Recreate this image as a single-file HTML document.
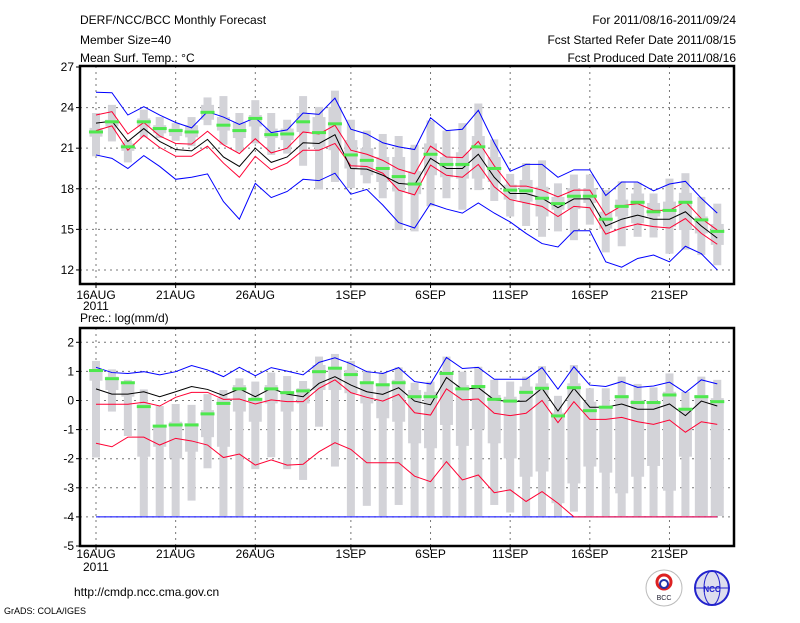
<!DOCTYPE html>
<html><head><meta charset="utf-8"><style>
body{margin:0;background:#fff;width:800px;height:618px;overflow:hidden;font-family:"Liberation Sans",sans-serif}
svg text{font-family:"Liberation Sans",sans-serif;font-size:12px;fill:#000}
</style></head><body>
<svg id="c" width="800" height="618" viewBox="0 0 800 618">
<text x="80" y="24">DERF/NCC/BCC Monthly Forecast</text>
<text x="80" y="44">Member Size=40</text>
<text x="80" y="62">Mean Surf. Temp.: °C</text>
<text x="736" y="24" text-anchor="end">For 2011/08/16-2011/09/24</text>
<text x="736" y="44" text-anchor="end">Fcst Started Refer Date 2011/08/15</text>
<text x="736" y="62" text-anchor="end">Fcst Produced Date 2011/08/16</text>
<text x="80" y="322">Prec.: log(mm/d)</text>
<text x="74" y="596">http://cmdp.ncc.cma.gov.cn</text>
<text x="4" y="614" style="font-size:9px">GrADS: COLA/IGES</text>
<g><circle cx="664" cy="588" r="18" fill="#fff" stroke="#bbb"/><circle cx="664" cy="582" r="7" fill="none" stroke="#d22" stroke-width="3"/><circle cx="664" cy="584" r="4" fill="none" stroke="#23a" stroke-width="2"/><text x="664" y="600" text-anchor="middle" style="font-size:7px;fill:#223">BCC</text></g>
<g><circle cx="712" cy="588" r="17" fill="#dde" stroke="#22c" stroke-width="2"/><ellipse cx="712" cy="588" rx="8" ry="17" fill="none" stroke="#22c"/><line x1="695" y1="588" x2="729" y2="588" stroke="#22c"/><text x="712" y="592" text-anchor="middle" style="font-size:8px;fill:#22c;font-weight:bold">NCC</text></g>
</svg>
<script>
// ---- data: top panel (temperature) ----
const tempBlueUp=[25.13,25.1,23.45,24.07,23.45,22.9,22.5,23.7,23.3,22.75,23.25,22.15,22.35,23.6,23.5,24.7,22.4,22.05,21.4,21.1,20.9,23.25,22.3,22.4,23.8,21.4,19.3,19.8,19.8,18.85,19.4,19.4,17.5,18.5,18.5,17.85,18.35,18.55,17.3,16.2];
const tempRedUp=[23.45,23.7,22.05,22.9,21.9,21.35,21.3,22.25,21.25,20.6,21.7,20.65,21.0,22.2,22.05,22.7,20.85,20.55,20.1,19.45,19.1,21.15,20.35,20.3,21.5,19.7,18.2,18.2,17.9,17.4,17.9,17.9,16.05,16.75,16.9,16.4,16.4,17.05,15.8,14.95];
const tempMean=[22.85,23.0,21.5,22.45,21.5,20.9,20.8,21.65,20.35,19.65,21.0,19.95,20.35,21.4,21.35,22.0,19.5,19.45,19.0,18.4,18.3,20.25,19.5,19.5,20.55,18.85,17.65,17.65,17.3,16.6,17.25,17.25,15.25,15.75,16.05,15.75,15.75,16.3,15.25,14.35];
const tempRedLo=[22.3,22.65,20.85,21.95,21.05,20.4,20.4,21.15,19.9,18.85,20.4,19.4,19.9,20.85,20.85,21.35,19.7,19.65,19.15,17.9,17.55,19.75,19.0,18.85,19.8,18.15,17.2,16.95,16.7,15.95,16.7,16.6,14.65,15.1,15.4,15.2,15.1,15.8,14.7,13.9];
const tempBlueLo=[20.5,20.25,19.5,20.45,19.65,18.7,18.85,19.1,17.05,15.75,18.4,17.35,17.8,18.7,18.6,19.15,17.6,17.95,16.8,15.5,15.1,16.9,16.5,16.2,16.95,16.2,15.55,14.7,13.95,13.7,14.9,14.9,12.6,12.2,12.85,13.1,12.6,13.75,13.2,12.0];
const tempObs=[22.2,22.95,21.1,22.95,22.45,22.3,22.2,23.65,22.7,22.3,23.2,22.0,22.05,22.95,22.15,22.8,20.5,20.1,19.5,18.9,18.35,20.55,19.8,19.8,21.1,19.5,17.9,17.85,17.3,16.9,17.45,17.45,15.75,16.7,17.0,16.3,16.4,17.0,15.7,14.85];
const tempMax=[23.6,24.2,21.6,23.85,23.3,22.85,23.3,24.75,24.85,23.6,24.55,23.6,23.1,24.85,24.05,25.25,23.1,22.3,22.05,21.9,21.25,23.05,22.3,22.85,24.3,21.65,19.1,19.9,20.1,18.4,19.05,19.05,17.9,18.55,18.45,17.65,18.75,19.15,17.4,16.9];
const tempMin=[20.4,21.5,19.95,21.8,21.75,21.55,21.15,22.7,21.25,20.75,21.35,20.5,20.6,19.7,17.95,18.5,18.05,18.4,17.3,14.95,14.85,16.7,17.3,16.45,17.9,17.1,15.95,15.25,14.45,14.85,14.2,15.35,13.3,13.75,14.45,14.4,13.2,13.5,13.1,12.35];
const tempQ75=[22.5,23.1,21.35,23.2,22.7,22.45,22.7,24.2,23.3,22.9,23.45,22.45,22.45,23.6,23.3,24.05,21.6,21.0,20.35,20.35,19.3,21.35,20.35,20.7,21.9,20.35,18.3,18.65,18.15,17.4,18.05,18.05,16.3,17.2,17.65,16.95,17.05,17.7,15.95,15.4];
const tempQ25=[21.85,22.6,20.8,22.6,22.1,21.9,21.8,23.1,22.3,21.75,22.6,21.75,21.6,22.2,21.1,20.85,19.5,19.0,18.5,17.8,17.6,19.0,18.85,18.75,18.75,18.5,17.2,17.05,15.95,16.45,16.5,16.95,15.05,15.95,15.45,15.95,15.2,14.95,14.7,13.85];
// ---- data: bottom panel (precip log) ----
const precBlueUp=[1.14,0.96,0.93,0.99,0.88,0.99,1.2,1.05,0.82,1.14,0.85,1.13,1.01,0.88,1.31,1.47,1.26,0.99,0.93,1.13,0.65,0.57,1.48,1.1,1.14,0.73,0.73,0.73,1.13,0.39,1.16,0.53,0.48,0.65,0.45,0.5,0.63,0.27,0.71,0.57];
const precMean=[0.4,0.22,0.22,0.3,0.13,0.3,0.48,0.38,0.17,0.4,0.13,0.42,0.22,0.13,0.59,0.82,0.53,0.3,0.21,0.44,-0.02,-0.15,0.79,0.38,0.44,0.02,-0.04,-0.02,0.42,-0.36,0.42,-0.23,-0.23,-0.12,-0.3,-0.3,-0.12,-0.52,-0.02,-0.19];
const precRedUp=[-0.13,-0.13,-0.13,-0.06,-0.19,0.11,0.28,0.28,0.04,0.05,-0.12,0.02,-0.04,-0.04,0.42,0.71,0.27,0.11,-0.02,0.21,-0.42,-0.5,0.4,0.02,0.05,-0.44,-0.52,-0.44,0.0,-0.76,-0.04,-0.65,-0.65,-0.58,-0.73,-0.82,-0.67,-1.09,-0.73,-0.82];
const precRedLo=[-1.47,-1.59,-1.26,-1.26,-1.53,-1.3,-1.39,-1.53,-1.96,-1.84,-2.22,-2.04,-2.22,-2.19,-1.76,-1.45,-1.68,-2.14,-2.14,-2.14,-2.6,-2.79,-2.1,-2.73,-2.56,-3.17,-3.07,-3.47,-3.13,-3.53,-4,-4,-4,-4,-4,-4,-4,-4,-4,-4];
const precBlueLo=[-4,-4,-4,-4,-4,-4,-4,-4,-4,-4,-4,-4,-4,-4,-4,-4,-4,-4,-4,-4,-4,-4,-4,-4,-4,-4,-4,-4,-4,-4,-4,-4,-4,-4,-4,-4,-4,-4,-4,-4];
const precObs=[1.03,0.75,0.61,-0.21,-0.88,-0.84,-0.84,-0.46,-0.1,0.4,0.04,0.4,0.27,0.33,0.99,1.11,0.89,0.61,0.54,0.61,0.13,0.13,0.93,0.4,0.48,0.04,-0.02,0.28,0.42,-0.53,0.44,-0.35,-0.23,0.13,-0.07,-0.07,0.19,-0.3,0.13,-0.04];
const precMax=[1.36,1.07,0.71,0.38,-0.19,-0.12,-0.15,0.22,0.36,0.76,0.65,0.96,0.84,0.67,1.51,1.6,1.36,1.03,0.96,1.14,0.61,0.65,1.51,0.99,1.16,0.71,0.65,0.82,1.18,0.16,1.22,0.42,0.42,0.82,0.57,0.45,0.93,0.3,0.82,0.71];
const precMin=[-1.96,-0.38,-1.22,-3.97,-3.97,-3.97,-3.44,-2.33,-3.97,-3.97,-2.36,-1.95,-2.36,-2.73,-0.9,-2.27,-3.97,-3.62,-3.97,-3.59,-3.97,-3.97,-3.97,-3.97,-3.97,-3.59,-3.85,-3.97,-3.97,-3.97,-3.82,-3.97,-3.97,-3.97,-3.97,-3.97,-3.97,-3.97,-3.97,-3.97];
const precQ75=[1.07,0.82,0.59,-0.12,-0.9,-0.73,-0.78,-0.33,0.08,0.53,0.08,0.53,0.3,0.42,1.22,1.11,1.05,0.65,0.59,0.71,0.36,0.3,0.93,0.53,0.53,0.19,0.13,0.48,0.59,-0.42,0.59,-0.04,-0.23,0.19,0.02,-0.04,0.3,-0.27,0.19,0.08];
const precQ25=[0.68,0.36,0.13,-1.93,-1.59,-1.99,-1.76,-1.26,-1.59,-0.38,-0.73,-0.1,-0.38,-0.1,0.36,0.36,0.25,-0.1,-0.61,-0.73,-1.47,-1.64,-0.84,-1.56,-0.99,-1.47,-1.99,-2.62,-2.44,-3.53,-2.85,-2.27,-2.48,-3.19,-2.62,-2.25,-3.1,-1.93,-3.97,-3.97];
const xTickIdx=[0,5,10,16,21,26,31,36];
const xTickLabels=["16AUG","21AUG","26AUG","1SEP","6SEP","11SEP","16SEP","21SEP"];
const topYTicks=[12,15,18,21,24,27];
const botYTicks=[-5,-4,-3,-2,-1,0,1,2];

const svg=document.getElementById('c');
const NS='http://www.w3.org/2000/svg';
function mk(tag,attrs,parent){const e=document.createElementNS(NS,tag);for(const k in attrs)e.setAttribute(k,attrs[k]);(parent||svg).appendChild(e);return e;}
const xs=i=>96+i*15.93;
function panel(name,top,bottom,ymap,yticks,d,lblY,yrY){
  const g=mk('g',{});
  
  
  yticks.forEach(v=>{const y=ymap(v);
    if(y>top+2&&y<bottom-1){const l=mk('line',{x1:80,x2:734,y1:y,y2:y,stroke:'#777','stroke-dasharray':'2,4'},g);}
    const t=mk('line',{x1:76,x2:80,y1:y,y2:y,stroke:'#000'},g);
    const tx=mk('text',{x:74,y:y+4,'text-anchor':'end'},g);tx.textContent=v;});
  xTickIdx.forEach((i,k)=>{const x=xs(i);
    const l=mk('line',{x1:x,x2:x,y1:top,y2:bottom,stroke:'#777','stroke-dasharray':'2,4'},g);
    const t=mk('line',{x1:x,x2:x,y1:bottom,y2:bottom+4,stroke:'#000'},g);
    const tx=mk('text',{x:x,y:lblY,'text-anchor':'middle'},g);tx.textContent=xTickLabels[k];});
  const yr=mk('text',{x:83,y:yrY},g);yr.textContent='2011';
  for(let i=0;i<40;i++){const x=xs(i);
    const w=mk('rect',{x:x-4,width:8,y:ymap(d.max[i]),height:Math.max(1,ymap(d.min[i])-ymap(d.max[i])),fill:'#d3d3d8'},g);
    const b=mk('rect',{x:x-6.5,width:13,y:ymap(d.q75[i]),height:Math.max(1,ymap(d.q25[i])-ymap(d.q75[i])),fill:'#d3d3d8'},g);}
  const line=(arr,col,nm)=>{const p=mk('polyline',{points:arr.map((v,i)=>xs(i)+','+ymap(v)).join(' '),fill:'none',stroke:col,'stroke-width':1},g);};
  line(d.blo,'#0000ff','blue-lower-line');line(d.bup,'#0000ff','blue-upper-line');
  line(d.rup,'#ff0033','red-upper-line');line(d.rlo,'#ff0033','red-lower-line');
  line(d.mean,'#000','ensemble-mean-line');
  d.obs.forEach((v,i)=>{const r=mk('rect',{x:xs(i)-7,y:ymap(v)-1.5,width:14,height:3,fill:'#4ee84e'},g);});
  const f=mk('rect',{x:80,y:top,width:654,height:bottom-top,fill:'none',stroke:'#000','stroke-width':2.5},g);
}
panel('temperature-panel',66,284,v=>67+(27-v)*13.53,topYTicks,{bup:tempBlueUp,rup:tempRedUp,mean:tempMean,rlo:tempRedLo,blo:tempBlueLo,obs:tempObs,max:tempMax,min:tempMin,q75:tempQ75,q25:tempQ25},299,310);
panel('precipitation-panel',328,546,v=>342.3+(2-v)*29.1,botYTicks,{bup:precBlueUp,rup:precRedUp,mean:precMean,rlo:precRedLo,blo:precBlueLo,obs:precObs,max:precMax,min:precMin,q75:precQ75,q25:precQ25},558,571);
</script>
</body></html>
